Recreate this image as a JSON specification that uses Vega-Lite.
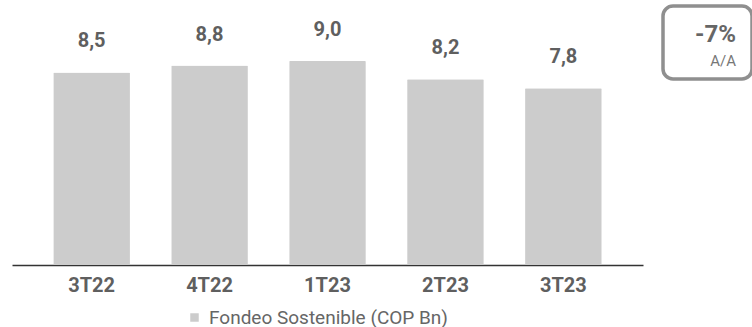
{
  "$schema": "https://vega.github.io/schema/vega-lite/v6.json",
  "padding": {"left": 12, "top": 4, "right": 0, "bottom": 0},
  "spacing": 18,
  "config": {
    "font": "Roboto",
    "view": {"stroke": null},
    "locale": {"number": {"decimal": ",", "thousands": ".", "grouping": [3], "currency": ["", ""]}}
  },
  "hconcat": [
    {
      "width": 631,
      "height": 259,
      "data": {
        "values": [
          {"trimestre": "3T22", "valor": 8.5, "serie": "Fondeo Sostenible (COP Bn)"},
          {"trimestre": "4T22", "valor": 8.8, "serie": "Fondeo Sostenible (COP Bn)"},
          {"trimestre": "1T23", "valor": 9.0, "serie": "Fondeo Sostenible (COP Bn)"},
          {"trimestre": "2T23", "valor": 8.2, "serie": "Fondeo Sostenible (COP Bn)"},
          {"trimestre": "3T23", "valor": 7.8, "serie": "Fondeo Sostenible (COP Bn)"}
        ]
      },
      "encoding": {
        "x": {
          "field": "trimestre",
          "type": "nominal",
          "sort": null,
          "scale": {"paddingInner": 0.35, "paddingOuter": 0.35},
          "axis": {
            "title": null,
            "labelAngle": 0,
            "ticks": false,
            "domainColor": "#333333",
            "domainWidth": 1.5,
            "labelFontSize": 20,
            "labelFontWeight": "bold",
            "labelColor": "#5f5f5f",
            "labelPadding": 10
          }
        },
        "y": {
          "field": "valor",
          "type": "quantitative",
          "scale": {"domain": [0, 11.43], "nice": false},
          "axis": null
        }
      },
      "layer": [
        {
          "mark": {"type": "bar", "cornerRadius": 1},
          "encoding": {
            "color": {
              "field": "serie",
              "type": "nominal",
              "scale": {"range": ["#cccccc"]},
              "legend": {
                "title": null,
                "orient": "none",
                "legendX": 173,
                "legendY": 302,
                "symbolType": "square",
                "symbolSize": 72,
                "symbolStrokeWidth": 0,
                "labelFontSize": 19,
                "labelLimit": 0,
                "labelColor": "#666666",
                "labelOffset": 5
              }
            }
          }
        },
        {
          "mark": {"type": "text", "baseline": "alphabetic", "dy": -25, "fontSize": 20, "fontWeight": "bold", "color": "#5f5f5f"},
          "encoding": {
            "text": {"field": "valor", "type": "quantitative", "format": ".1f"}
          }
        }
      ]
    },
    {
      "width": 89,
      "height": 73,
      "view": {"stroke": "#8f8f8f", "strokeWidth": 3.5, "cornerRadius": 10},
      "data": {
        "values": [
          {"tipo": "variacion", "texto": "-7%"},
          {"tipo": "base", "texto": "A/A"}
        ]
      },
      "encoding": {
        "y": {
          "field": "tipo",
          "type": "nominal",
          "sort": null,
          "scale": {"type": "point", "range": [36, 60], "padding": 0},
          "axis": null
        },
        "text": {"field": "texto", "type": "nominal"}
      },
      "layer": [
        {
          "transform": [{"filter": "datum.tipo == 'variacion'"}],
          "mark": {"type": "text", "x": "width", "dx": -16, "align": "right", "baseline": "alphabetic", "fontSize": 24, "fontWeight": "bold", "color": "#666666"}
        },
        {
          "transform": [{"filter": "datum.tipo == 'base'"}],
          "mark": {"type": "text", "x": "width", "dx": -16, "align": "right", "baseline": "alphabetic", "fontSize": 15, "color": "#777777"}
        }
      ]
    }
  ]
}
